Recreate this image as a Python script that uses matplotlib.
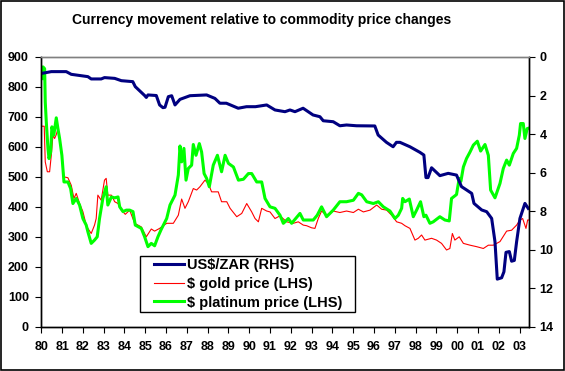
import matplotlib
matplotlib.use("Agg")
import matplotlib.pyplot as plt
from matplotlib.patches import Rectangle
from matplotlib.legend_handler import HandlerLine2D

plt.rcParams['font.family'] = ['Liberation Sans', 'DejaVu Sans']
plt.rcParams['font.weight'] = 'bold'

title = "Currency movement relative to commodity price changes"
year_labels = ["80", "81", "82", "83", "84", "85", "86", "87", "88", "89", "90", "91",
               "92", "93", "94", "95", "96", "97", "98", "99", "00", "01", "02", "03"]

zar_x = [1980.03, 1980.48, 1981.2, 1981.44, 1982.24, 1982.4, 1982.88, 1983.04, 1983.53, 1983.85,
         1984.4, 1984.52, 1984.97, 1985.05, 1985.13, 1985.53, 1985.69, 1985.85, 1985.95, 1986.11,
         1986.27, 1986.43, 1986.67, 1987.15, 1987.95, 1988.35, 1988.59, 1988.9, 1989.47, 1989.87,
         1990.3, 1990.84, 1991.24, 1991.72, 1991.96, 1992.2, 1992.59, 1993.07, 1993.40, 1993.56,
         1994.04, 1994.36, 1994.68, 1995.16, 1996.04, 1996.2, 1996.6, 1996.92, 1997.08, 1997.25,
         1997.73, 1998.21, 1998.40, 1998.5, 1998.6, 1998.77, 1999.17, 1999.57, 1999.97, 2000.21,
         2000.45, 2000.7, 2000.81, 2001.18, 2001.42, 2001.66, 2001.82, 2001.93, 2002.14, 2002.25,
         2002.35, 2002.51, 2002.62, 2002.75, 2002.86, 2003.02, 2003.26, 2003.42]
zar_y = [0.85, 0.76, 0.76, 0.90, 1.02, 1.14, 1.14, 1.07, 1.11, 1.23,
         1.28, 1.54, 2.00, 2.10, 1.97, 2.00, 2.49, 2.63, 2.61, 2.06,
         2.01, 2.49, 2.20, 2.01, 1.97, 2.15, 2.40, 2.40, 2.66, 2.58,
         2.58, 2.49, 2.75, 2.84, 2.75, 2.84, 2.66, 3.01, 3.10, 3.31,
         3.36, 3.57, 3.53, 3.57, 3.58, 4.05, 4.43, 4.66, 4.43, 4.43,
         4.66, 4.95, 5.09, 6.26, 6.26, 5.75, 6.16, 6.04, 6.13, 6.73,
         6.90, 7.08, 7.60, 7.94, 8.03, 8.38, 9.59, 11.53, 11.46, 11.15,
         10.14, 10.10, 10.60, 10.56, 9.59, 8.38, 7.60, 7.86]

gold_x = [1980.03, 1980.14, 1980.19, 1980.29, 1980.40, 1980.48, 1980.56, 1980.64, 1980.72, 1980.80,
          1980.96, 1981.09, 1981.28, 1981.44, 1981.57, 1981.68, 1981.84, 1982.0, 1982.16, 1982.24,
          1982.4, 1982.56, 1982.64, 1982.72, 1982.88, 1983.04, 1983.12, 1983.2, 1983.37, 1983.53,
          1983.69, 1983.85, 1984.04, 1984.25, 1984.49, 1984.81, 1985.05, 1985.29, 1985.45, 1985.69,
          1986.03, 1986.35, 1986.59, 1986.75, 1986.91, 1987.07, 1987.31, 1987.47, 1987.63, 1987.87,
          1988.03, 1988.19, 1988.51, 1988.67, 1988.92, 1989.08, 1989.4, 1989.64, 1989.88, 1990.12,
          1990.28, 1990.44, 1990.6, 1990.84, 1991.0, 1991.24, 1991.48, 1991.8, 1992.12, 1992.36,
          1992.6, 1992.76, 1993.0, 1993.16, 1993.32, 1993.48, 1993.72, 1994.04, 1994.36, 1994.68,
          1995.01, 1995.25, 1995.49, 1995.81, 1996.13, 1996.37, 1996.61, 1996.85, 1997.09, 1997.33,
          1997.49, 1997.73, 1997.97, 1998.13, 1998.29, 1998.45, 1998.77, 1999.01, 1999.25, 1999.49,
          1999.65, 1999.77, 1999.89, 2000.1, 2000.3, 2000.62, 2000.94, 2001.26, 2001.5, 2001.74,
          2001.9, 2002.06, 2002.38, 2002.62, 2002.86, 2003.02, 2003.15, 2003.31, 2003.39, 2003.47]
gold_y = [669, 669, 550, 517, 517, 572, 639, 628, 641, 660,
          595, 500, 497, 472, 428, 445, 411, 384, 339, 328,
          311, 339, 361, 439, 422, 489, 495, 439, 439, 417,
          411, 389, 375, 389, 345, 333, 300, 326, 319, 328,
          345, 345, 372, 426, 395, 417, 461, 456, 467, 489,
          478, 450, 450, 417, 417, 395, 367, 378, 411, 383,
          361, 350, 395, 386, 383, 361, 370, 350, 345, 350,
          339, 337, 330, 328, 361, 386, 372, 386, 381, 386,
          381, 392, 383, 389, 406, 392, 389, 372, 350, 345,
          337, 328, 289, 295, 306, 289, 295, 289, 278, 256,
          261, 311, 289, 300, 278, 272, 267, 261, 272, 272,
          278, 284, 319, 322, 339, 356, 361, 328, 356, 356]

plat_x = [1980.03, 1980.08, 1980.16, 1980.19, 1980.24, 1980.32, 1980.37, 1980.45, 1980.51, 1980.6,
          1980.72, 1980.8, 1980.88, 1980.99, 1981.09, 1981.28, 1981.41, 1981.52, 1981.68, 1981.84,
          1982.0, 1982.16, 1982.24, 1982.4, 1982.56, 1982.69, 1982.8, 1982.96, 1983.12, 1983.2,
          1983.37, 1983.53, 1983.69, 1983.77, 1983.93, 1984.09, 1984.25, 1984.41, 1984.52, 1984.81,
          1984.97, 1985.13, 1985.29, 1985.45, 1985.61, 1985.77, 1986.03, 1986.19, 1986.43, 1986.59,
          1986.67, 1986.75, 1986.86, 1986.96, 1987.07, 1987.23, 1987.31, 1987.44, 1987.6, 1987.71,
          1987.83, 1987.95, 1988.08, 1988.27, 1988.47, 1988.67, 1988.84, 1989.0, 1989.24, 1989.48,
          1989.72, 1989.96, 1990.12, 1990.36, 1990.6, 1990.76, 1991.0, 1991.24, 1991.48, 1991.64,
          1991.72, 1991.88, 1992.04, 1992.2, 1992.44, 1992.6, 1992.84, 1993.08, 1993.27, 1993.48,
          1993.72, 1994.04, 1994.36, 1994.68, 1995.01, 1995.25, 1995.41, 1995.65, 1995.97, 1996.21,
          1996.45, 1996.77, 1997.01, 1997.17, 1997.33, 1997.38, 1997.49, 1997.7, 1997.89, 1998.05,
          1998.24, 1998.40, 1998.5, 1998.69, 1998.85, 1999.17, 1999.41, 1999.62, 1999.73, 1999.97,
          2000.1, 2000.18, 2000.3, 2000.45, 2000.62, 2000.78, 2000.97, 2001.13, 2001.34, 2001.5,
          2001.61, 2001.82, 2002.06, 2002.22, 2002.38, 2002.51, 2002.7, 2002.86, 2002.99, 2003.05,
          2003.18, 2003.26, 2003.37, 2003.47]
plat_y = [828, 867, 861, 750, 683, 595, 561, 583, 667, 639,
          697, 661, 628, 572, 483, 483, 461, 411, 428, 406,
          361, 339, 317, 278, 289, 300, 361, 428, 467, 406,
          433, 430, 433, 400, 384, 389, 389, 384, 339, 328,
          300, 267, 278, 270, 300, 325, 361, 406, 439, 506,
          603, 550, 595, 489, 528, 539, 608, 572, 611, 583,
          511, 495, 467, 539, 572, 517, 572, 545, 533, 489,
          492, 511, 511, 483, 483, 428, 400, 395, 372, 345,
          350, 361, 345, 358, 378, 356, 356, 356, 372, 400,
          367, 389, 417, 417, 422, 445, 440, 417, 411, 417,
          400, 386, 361, 372, 395, 428, 417, 426, 367, 389,
          417, 367, 372, 345, 350, 367, 356, 353, 428, 441,
          495, 485, 533, 561, 583, 606, 619, 586, 608, 572,
          456, 430, 478, 528, 556, 539, 578, 595, 639, 678,
          678, 628, 661, 663]

fig = plt.figure(figsize=(5.65, 3.71), dpi=100)
fig.patch.set_facecolor('white')
ax = fig.add_axes([0.0731, 0.1194, 0.8637, 0.727])
ax2 = ax.twinx()

l2, = ax.plot(gold_x, gold_y, color='#FF0000', lw=0.8, label='$ gold price (LHS)')
l3, = ax.plot(plat_x, plat_y, color='#00FF00', lw=2.2, label='$ platinum price (LHS)')
l1, = ax2.plot(zar_x, zar_y, color='#000080', lw=2.2, label='US$/ZAR (RHS)')

ax.set_xlim(1980, 2003.47)
ax.set_ylim(0, 900)
ax.set_yticks(range(0, 901, 100))
ax2.set_ylim(14, 0)
ax2.set_yticks(range(0, 15, 2))
ax.set_xticks(range(1980, 2004))
ax.set_xticklabels(year_labels)

for a in (ax, ax2):
    for s in a.spines.values():
        s.set_color('black')
        s.set_linewidth(1)
    a.spines['top'].set_color('#808080')
ax.tick_params(axis='y', direction='out', length=4, width=0.8, pad=5, labelsize=9)
ax.tick_params(axis='x', direction='out', length=4, width=0.8, pad=6.5, labelsize=9)
ax2.tick_params(axis='y', direction='out', length=4, width=0.8, pad=3.5, labelsize=9)

hmap = {l: HandlerLine2D(xpad=0.81) for l in (l1, l2, l3)}
leg = ax2.legend(handles=[l1, l2, l3], loc='lower left',
                 bbox_to_anchor=(0.2023, 0.0556, 0.4406, 0.2), mode='expand',
                 borderaxespad=0, fancybox=False, framealpha=1, edgecolor='black',
                 fontsize=10.5, handlelength=2.89, handletextpad=0.16, labelspacing=0.33,
                 borderpad=0.15, handler_map=hmap)
leg.get_frame().set_linewidth(1)

fig.text(0.463, 0.947, title, ha='center', va='center', fontsize=10, fontweight='bold')
fig.patches.append(Rectangle((0.001, 0.003), 0.997, 0.995, transform=fig.transFigure,
                             fill=False, edgecolor='black', lw=1.2))

fig.savefig('out.png', dpi=100)
